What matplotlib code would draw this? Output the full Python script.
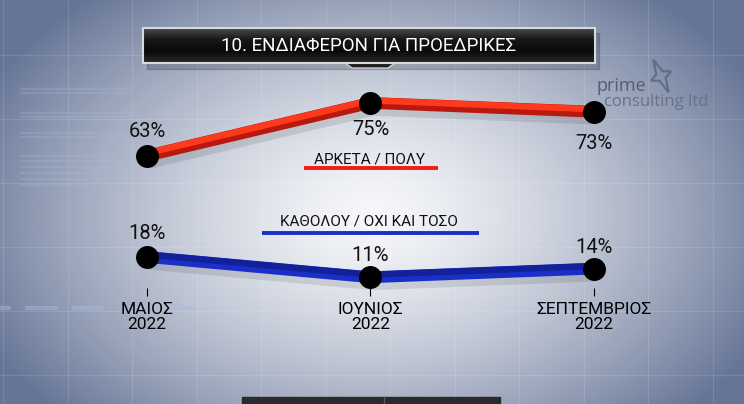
import numpy as np
import matplotlib.pyplot as plt
from matplotlib import patheffects as pe
from matplotlib.patches import Rectangle, Polygon
from matplotlib.colors import LinearSegmentedColormap

# data
months = ["ΜΑΙΟΣ\n2022", "ΙΟΥΝΙΟΣ\n2022", "ΣΕΠΤΕΜΒΡΙΟΣ\n2022"]
arketa = [63, 75, 73]        # ΑΡΚΕΤΑ / ΠΟΛΥ
katholou = [18, 11, 14]      # ΚΑΘΟΛΟΥ / ΟΧΙ ΚΑΙ ΤΟΣΟ
title = "10. ΕΝΔΙΑΦΕΡΟΝ ΓΙΑ ΠΡΟΕΔΡΙΚΕΣ"
label_top = "ΑΡΚΕΤΑ / ΠΟΛΥ"
label_bottom = "ΚΑΘΟΛΟΥ / ΟΧΙ ΚΑΙ ΤΟΣΟ"

FONT = ["Roboto", "DejaVu Sans"]
plt.rcParams["font.family"] = FONT

W, H = 744, 404
fig = plt.figure(figsize=(7.44, 4.04), dpi=100)


def box(x0, y0, x1, y1):
    return [x0 / W, 1 - y1 / H, (x1 - x0) / W, (y1 - y0) / H]


# background
bg = fig.add_axes([0, 0, 1, 1])
bg.set_xlim(0, W)
bg.set_ylim(H, 0)
bg.axis("off")

yy, xx = np.mgrid[0:H, 0:W]
r = np.hypot((xx - 372) / 430, (yy - 215) / 290)
t = np.clip(r, 0, 1) ** 1.4
center = np.array([0.965, 0.97, 0.98])
edge = np.array([0.40, 0.46, 0.59])
img = center * (1 - t[..., None]) + edge * t[..., None]
bg.imshow(img, extent=(0, W, H, 0), aspect="auto", zorder=0)

for gx in np.arange(3, W, 64.5):
    bg.axvline(gx, color="white", alpha=0.12, lw=0.8, zorder=1)
for gy in np.arange(55, H, 64):
    bg.axhline(gy, color="white", alpha=0.12, lw=0.8, zorder=1)

# faint decorative bars on the left
for bx0, bx1 in [(0, 10), (25, 57), (72, 103), (120, 150), (170, 195)]:
    bg.add_patch(Rectangle((bx0, 306), bx1 - bx0, 3, color="#a9bde0", alpha=0.35, zorder=1))
for by in [88, 92, 112, 116, 132, 136, 155, 160, 166, 172, 178, 184]:
    bg.add_patch(Rectangle((20, by), 110, 1.2, color="#a9bde0", alpha=0.18, zorder=1))

# title box
bg.add_patch(Rectangle((147, 33), 452, 36, color="black", alpha=0.18, zorder=2))
tcmap = LinearSegmentedColormap.from_list("t", ["#4a4a4a", "#161616", "#0a0a0a", "#2a2a2a"])
bg.imshow(np.linspace(0, 1, 60)[:, None], extent=(143, 595, 63, 28), cmap=tcmap,
          aspect="auto", zorder=3)
bg.add_patch(Polygon([(345, 62), (352, 68), (388, 68), (395, 62)], closed=True,
                     fc="#1e1e1e", ec="none", zorder=3))
bg.plot([345, 352, 388, 395], [63, 68, 68, 63], color="#c9cdd4", lw=1, zorder=4)
bg.add_patch(Rectangle((143, 28), 452, 35, fill=False, ec="#d6d9df", lw=1.5, zorder=4))
bg.text(369, 46, title, color="white", fontsize=13.5, ha="center", va="center", zorder=5)

# logo
star = []
for k in range(8):
    ang = np.deg2rad(-25 + 45 * k)
    rad = [18, 5, 11, 5][k % 4]
    star.append((661 + rad * np.sin(ang), 76 - rad * np.cos(ang)))
bg.add_patch(Polygon(star, closed=True, fill=False, ec="#5b6379", lw=1.6, alpha=0.8, zorder=2))
bg.text(597, 86, "prime", fontsize=13, color="#555d73", family="Open Sans",
        va="center", ha="left", zorder=2)
bg.text(604, 102, "consulting ltd", fontsize=12, color="#6a7287", family="Open Sans",
        va="center", ha="left", zorder=2)

# series labels with underline
bg.text(370, 160, label_top, fontsize=11, ha="center", va="center", color="#111", zorder=5)
bg.plot([304, 438], [168, 168], color="#f21d12", lw=2.8, solid_capstyle="butt", zorder=5)
bg.text(369, 222, label_bottom, fontsize=11, ha="center", va="center", color="#111", zorder=5)
bg.plot([262, 479], [233, 233], color="#1a2fc8", lw=2.8, solid_capstyle="butt", zorder=5)

# bottom bar
bg.add_patch(Rectangle((242, 397), 258, 7, color="#2a2a2f", zorder=2))
bg.plot([384, 384], [397, 404], color="#55555c", lw=1, zorder=3)


def draw(ax, vals, dark, bright, hi_off, offs):
    x = np.arange(len(vals))
    ax.plot(x, vals, color=dark, lw=8.5, solid_capstyle="butt", solid_joinstyle="miter",
            clip_on=False, zorder=3,
            path_effects=[pe.SimpleLineShadow(offset=(2, -5), shadow_color="black", alpha=0.1),
                          pe.Normal(),
                          pe.Stroke(offset=(0, hi_off), linewidth=4.5, foreground=bright)])
    ax.plot(x, vals, "o", color="black", ms=15.5, clip_on=False, zorder=4)
    for xi, v, dy in zip(x, vals, offs):
        ax.annotate(f"{v}%", (xi, v), xytext=(0, dy), textcoords="offset pixels",
                    ha="center", va="center", fontsize=14.5, color="#111", zorder=5)


top = fig.add_axes(box(100, 80, 640, 180))
top.set_xlim(-0.21, 2.206)
top.set_ylim(57.5, 80.2)
top.axis("off")
draw(top, arketa, "#b8180e", "#ff3a1c", 1.8, [24, -27, -32])

bot = fig.add_axes(box(100, 230, 640, 288))
bot.set_xlim(-0.21, 2.206)
bot.set_ylim(7.3, 27.3)
bot.patch.set_visible(False)
for s in bot.spines.values():
    s.set_visible(False)
bot.set_yticks([])
bot.set_xticks(range(len(months)), months)
bot.tick_params(axis="x", length=6, width=0.8, pad=4, labelsize=12.5, colors="black")
for lbl in bot.get_xticklabels():
    lbl.set_linespacing(1.0)
draw(bot, katholou, "#1a2fc8", "#12209a", 1.8, [23, 22, 21])

fig.savefig("out.png", dpi=100)
